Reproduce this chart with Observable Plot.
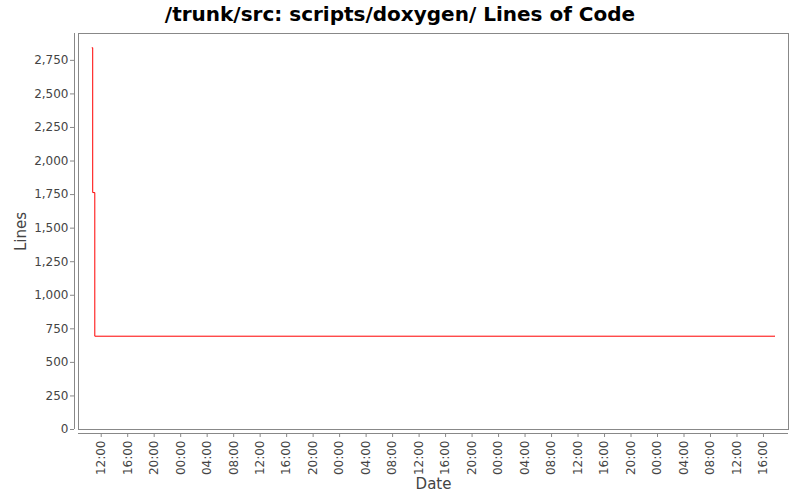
<!DOCTYPE html>
<html>
<head>
<meta charset="utf-8">
<script src="https://cdn.jsdelivr.net/npm/d3@7"></script>
<script src="https://cdn.jsdelivr.net/npm/@observablehq/plot@0.6"></script>
<style>
  body { margin: 0; background: #fff; width: 800px; height: 500px; overflow: hidden; }
  #title { height: 28px; line-height: 28px; text-align: center; font-family: "DejaVu Sans", sans-serif; font-weight: bold; font-size: 20px; color: #000; }
</style>
</head>
<body>
<div id="title">/trunk/src: scripts/doxygen/ Lines of Code</div>
<div id="chart"></div>
<script>
const dates = ["2008-01-01T10:38Z", "2008-01-01T10:43Z", "2008-01-01T11:02Z", "2008-01-05T17:43Z"];
const linesOfCode = [2844, 1765, 695, 695];
const yTicks = [0, 250, 500, 750, 1000, 1250, 1500, 1750, 2000, 2250, 2500, 2750];
const yMax = 2950;

const data = dates.map((d, i) => ({date: new Date(d), lines: linesOfCode[i]}));
const [t0, t1] = d3.extent(data, d => d.date);
const pad = (t1 - t0) * 0.02;
const xDomain = [new Date(+t0 - pad), new Date(+t1 + pad)];
const xTicks = d3.utcHour.every(4).range(xDomain[0], xDomain[1]);

const chart = Plot.plot({
  width: 800,
  height: 472,
  marginLeft: 78,
  marginRight: 12,
  marginTop: 5,
  marginBottom: 71,
  style: {fontFamily: "DejaVu Sans, sans-serif", fontSize: "12px", color: "#444", background: "#fff"},
  x: {type: "utc", domain: xDomain},
  y: {domain: [0, yMax]},
  marks: [
    Plot.frame({stroke: "#888"}),
    Plot.ruleX([xDomain[0]], {dx: -4, stroke: "#888"}),
    Plot.ruleY([0], {dy: 4, stroke: "#888"}),
    Plot.axisY({ticks: yTicks, tickFormat: d3.format(","), dx: -4, tickSize: 4, tickPadding: 2, stroke: "#888", fill: "#444", label: null}),
    Plot.axisX({ticks: xTicks, tickFormat: d3.utcFormat("%H:%M"), tickRotate: -90, dy: 4, tickSize: 4, tickPadding: 3, stroke: "#888", fill: "#444", label: null}),
    Plot.text(["Lines"], {frameAnchor: "left", textAnchor: "middle", lineAnchor: "middle", dx: -57, rotate: -90, fontSize: 15, fill: "#444"}),
    Plot.text(["Date"], {frameAnchor: "bottom", textAnchor: "middle", lineAnchor: "middle", dy: 55, fontSize: 15, fill: "#444"}),
    Plot.line(data, {x: "date", y: "lines", curve: "step-after", stroke: "red", strokeWidth: 1})
  ]
});
document.getElementById("chart").appendChild(chart);
</script>
</body>
</html>
